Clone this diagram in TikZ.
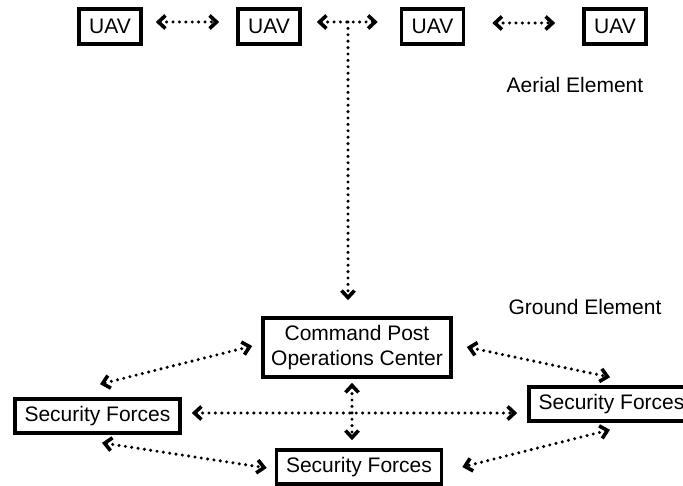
\documentclass[tikz,border=0pt]{standalone}
\usepackage{fontspec}
\setmainfont{Liberation Sans}
\usetikzlibrary{arrows.meta}
\begin{document}
\begin{tikzpicture}[x=1pt,y=-1pt,
  box/.style={draw, line width=3.6pt, fill=white, inner sep=0pt,
    font=\fontsize{21}{25}\selectfont, align=center},
  uav/.style={box, minimum width=62pt, minimum height=35pt},
  sf/.style={box, minimum width=165pt, minimum height=34pt},
  tipA/.tip={Straight Barb[length=7pt,width=13pt,line width=3.6pt]},
  link/.style={line width=3.4pt, line cap=round, dash pattern=on 0pt off 6.4pt},
  both/.style={link, tipA-tipA},
  label/.style={font=\fontsize{21}{25}\selectfont}]
\useasboundingbox (0,0) rectangle (683,486);

% aerial element: the UAV chain
\node[uav] (u1) at (110,26.5) {UAV};
\node[uav] (u2) at (269,26.5) {UAV};
\node[uav] (u3) at (432.5,26.5) {UAV};
\node[uav] (u4) at (615,26.5) {UAV};
\node[label] (aerial) at (575,85) {Aerial Element};

% ground element
\node[box, minimum width=188pt, minimum height=59pt] (cp) at (357,347.5)
  {Command Post\\Operations Center};
\node[sf] (sfl) at (97.5,416) {Security Forces};
\node[sf] (sfr) at (611.5,404) {Security Forces};
\node[sf] (sfb) at (359,467) {Security Forces};
\node[label] (ground) at (585,307) {Ground Element};

% links between UAVs
\draw[both] ([shift={(13,-4.5)}]u1.east) -- ([shift={(-17,-4.5)}]u2.west);
\draw[both] ([shift={(15,-4.5)}]u2.east) -- ([shift={(-22,-4.5)}]u3.west);
\coordinate (j) at (348,22);
\draw[both] ([shift={(27,-3.5)}]u3.east) -- ([shift={(-27,-3.5)}]u4.west);

% air-to-ground downlink
\draw[link, -tipA] (j) -- ([shift={(-9,-16)}]cp.north);

% ground links
\draw[both] ([shift={(-9,-1.5)}]cp.west) -- ([shift={(2.5,-13)}]sfl.north);
\draw[both] ([shift={(14,-0.5)}]cp.east) -- ([shift={(-1.5,-8)}]sfr.north);
\draw[both] ([shift={(-5,4)}]cp.south) -- ([shift={(-7,-8)}]sfb.north);
\draw[both] ([shift={(10,-3)}]sfl.east) -- ([shift={(-10,9)}]sfr.west);
\draw[both] ([shift={(4.5,8)}]sfl.south) -- ([shift={(-8,1)}]sfb.west);
\draw[both] ([shift={(-1.5,7)}]sfr.south) -- ([shift={(19,0)}]sfb.east);
\end{tikzpicture}
\end{document}
